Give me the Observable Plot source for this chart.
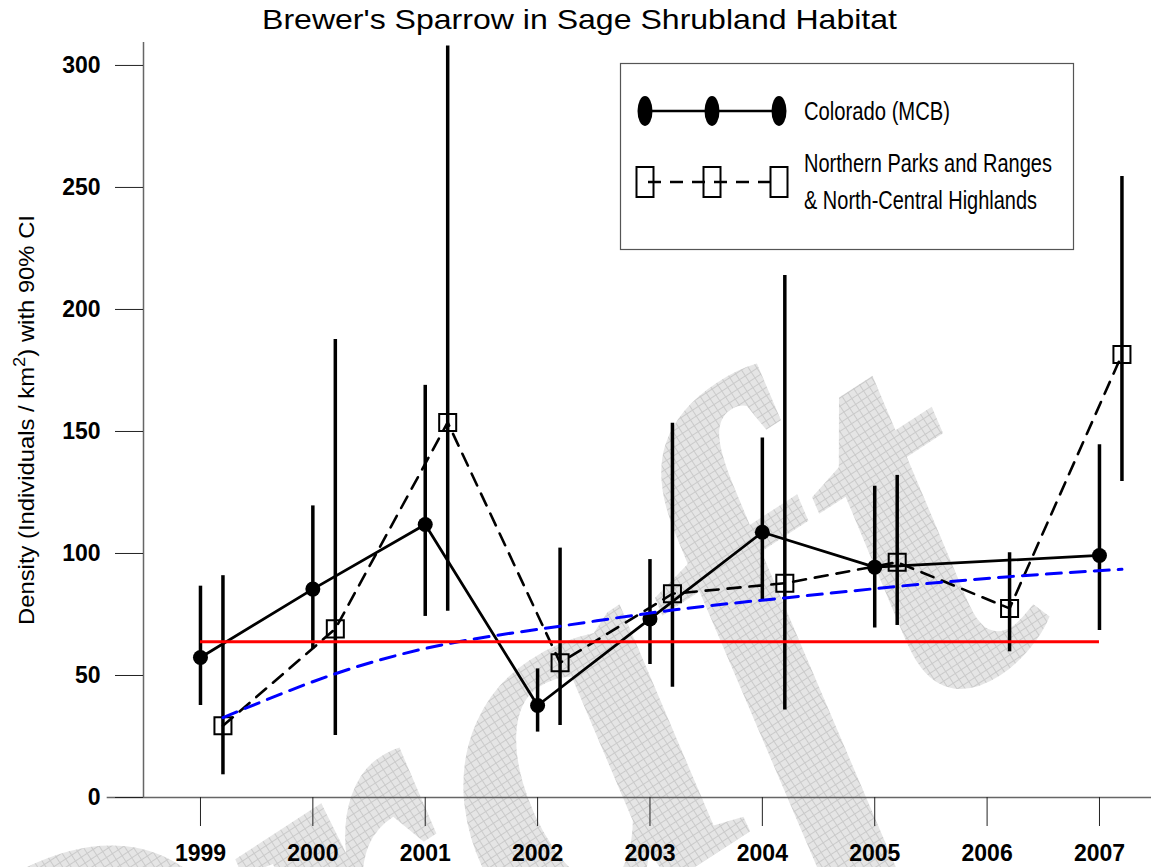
<!DOCTYPE html>
<html><head><meta charset="utf-8">
<script src="https://cdn.jsdelivr.net/npm/d3@7"></script>
<script src="https://cdn.jsdelivr.net/npm/@observablehq/plot@0.6"></script>
<style>body{margin:0;background:#fff} #chart svg{display:block}</style>
</head><body><div id="chart"></div>
<script>
// ---- data ----
const years = [1999, 2000, 2001, 2002, 2003, 2004, 2005, 2006, 2007];
const coloradoYears = [1999, 2000, 2001, 2002, 2003, 2004, 2005, 2007];
const coloradoDensity = [57.4, 85.4, 111.9, 37.7, 73.2, 108.7, 94.4, 99.2];
const coloradoLower   = [37.7, 60.9, 74.2, 26.8, 54.5, 80.4, 69.5, 68.4];
const coloradoUpper   = [86.6, 119.5, 168.9, 52.7, 97.5, 147.3, 127.5, 144.6];
const parksYears = [1999, 2000, 2001, 2002, 2003, 2004, 2005, 2006, 2007];
const parksDensity = [29.4, 69.1, 153.7, 55.2, 83.5, 87.8, 96.4, 77.5, 181.5];
const parksLower   = [9.3, 25.4, 76.3, 29.5, 45.2, 35.9, 70.5, 59.7, 129.5];
const parksUpper   = [90.9, 187.7, 308, 102.2, 153.4, 213.9, 132, 100.3, 254.5];
const trendDensity = [32.7, 50.7, 63.0, 70.2, 76.8, 81.8, 86.5, 90.5, 93.5];
const meanDensity = 63.8;
const yTicks = [0, 50, 100, 150, 200, 250, 300];
const parksOffset = 0.2;
const titleText = "Brewer's Sparrow in Sage Shrubland Habitat";
const legendLabels = ["Colorado (MCB)", "Northern Parks and Ranges", "& North-Central Highlands"];

// ---- tables ----
const colorado = coloradoYears.map((yr, i) => ({x: yr, est: coloradoDensity[i], lo: coloradoLower[i], hi: coloradoUpper[i]}));
const parks = parksYears.map((yr, i) => ({x: yr + parksOffset, est: parksDensity[i], lo: parksLower[i], hi: parksUpper[i]}));
const trend = parksYears.map((yr, i) => ({x: yr + parksOffset, y: trendDensity[i]}));

const W = 1151, H = 867;
const xDomain = [1998.493, 2007.463];
const yDomain = [0, 309.4];
const axisGray = "#666";

const chart = Plot.plot({
  width: W, height: H,
  marginLeft: 143, marginRight: 0, marginTop: 42, marginBottom: 70,
  style: {fontFamily: "'Liberation Sans', Arial, Helvetica, sans-serif", background: "#fff", color: "#000"},
  x: {domain: xDomain},
  y: {domain: yDomain},
  marks: [
    Plot.ruleX([xDomain[0]], {y1: yDomain[0], y2: yDomain[1], stroke: axisGray, strokeWidth: 1.5}),
    Plot.ruleY([0], {x1: 1998.17, x2: xDomain[1], stroke: axisGray, strokeWidth: 1.5}),
    Plot.axisY(yTicks, {tickSize: 28, tickPadding: 15, fontSize: 23, fontWeight: "bold", stroke: "#222", label: null}),
    Plot.axisX(years, {tickSize: 29, tickPadding: 18, fontSize: 23, fontWeight: "bold", stroke: "#222", tickFormat: d => String(d), label: null}),
    Plot.ruleX(colorado, {x: "x", y1: "lo", y2: "hi", stroke: "#000", strokeWidth: 3.5}),
    Plot.ruleX(parks, {x: "x", y1: "lo", y2: "hi", stroke: "#000", strokeWidth: 3.5}),
    Plot.line(parks, {x: "x", y: "est", stroke: "#000", strokeWidth: 2.6, strokeDasharray: "13,9"}),
    Plot.line(colorado, {x: "x", y: "est", stroke: "#000", strokeWidth: 2.8}),
    Plot.dot(colorado, {x: "x", y: "est", r: 7.5, fill: "#000"}),
    Plot.dot(parks, {x: "x", y: "est", symbol: "square", r: 9.6, stroke: "#000", strokeWidth: 2, fill: "none"}),
    Plot.line(trend, {x: "x", y: "y", stroke: "#0000ff", strokeWidth: 3, strokeDasharray: "15,9", curve: "natural"}),
    Plot.ruleY([meanDensity], {x1: years[0], x2: years[years.length - 1], stroke: "#ff0000", strokeWidth: 3})
  ]
});

// ---- decorations: watermark, title, y label, legend ----
const svg = d3.select(chart);
const defs = svg.append("defs");
const pat = defs.append("pattern").attr("id", "wmgrid").attr("width", 7).attr("height", 7).attr("patternUnits", "userSpaceOnUse");
pat.append("rect").attr("width", 7).attr("height", 7).attr("fill", "#e5e5e5");
pat.append("path").attr("d", "M0,0.5H7M0.5,0V7").attr("stroke", "#cacaca").attr("stroke-width", 1);

svg.insert("text", "g")
  .attr("transform", "translate(1060,630) rotate(-33)")
  .attr("text-anchor", "end")
  .attr("font-family", "'Liberation Serif', 'Times New Roman', serif")
  .attr("font-style", "italic")
  .attr("font-weight", "bold")
  .attr("font-size", 560)
  .attr("fill", "url(#wmgrid)")
  .text("Draft");

svg.append("text")
  .attr("x", 262).attr("y", 29)
  .attr("text-anchor", "start")
  .attr("font-family", "'Liberation Sans', Arial, sans-serif")
  .attr("font-size", 28)
  .attr("textLength", 635).attr("lengthAdjust", "spacingAndGlyphs")
  .attr("fill", "#000")
  .text(titleText);

const yl = svg.append("text")
  .attr("transform", "translate(34,420) rotate(-90)")
  .attr("text-anchor", "middle")
  .attr("font-family", "'Liberation Sans', Arial, sans-serif")
  .attr("font-size", 22)
  .attr("textLength", 410).attr("lengthAdjust", "spacingAndGlyphs")
  .attr("fill", "#000");
yl.append("tspan").text("Density (Individuals / km");
yl.append("tspan").attr("baseline-shift", "super").attr("font-size", 17).text("2");
yl.append("tspan").text(") with 90% CI");

const lg = svg.append("g");
lg.append("rect").attr("x", 620.5).attr("y", 63.5).attr("width", 453).attr("height", 186)
  .attr("fill", "#fff").attr("stroke", "#555").attr("stroke-width", 1.2);
const symX = [645, 712, 779];
lg.append("line").attr("x1", symX[0]).attr("x2", symX[2]).attr("y1", 111).attr("y2", 111)
  .attr("stroke", "#000").attr("stroke-width", 2.5);
symX.forEach(cx => lg.append("ellipse").attr("cx", cx).attr("cy", 111).attr("rx", 7.5).attr("ry", 15).attr("fill", "#000"));
lg.append("line").attr("x1", symX[0]).attr("x2", symX[2]).attr("y1", 182).attr("y2", 182)
  .attr("stroke", "#000").attr("stroke-width", 2.5).attr("stroke-dasharray", "13,9").attr("stroke-dashoffset", -3);
symX.forEach(cx => lg.append("rect").attr("x", cx - 8.5).attr("y", 167).attr("width", 17).attr("height", 30)
  .attr("fill", "none").attr("stroke", "#000").attr("stroke-width", 2));
const legendText = (t, y, len) => lg.append("text").attr("x", 804).attr("y", y)
  .attr("text-anchor", "start")
  .attr("font-family", "'Liberation Sans', Arial, sans-serif").attr("font-size", 25)
  .attr("textLength", len).attr("lengthAdjust", "spacingAndGlyphs").attr("fill", "#000").text(t);
legendText(legendLabels[0], 120, 146);
legendText(legendLabels[1], 172, 248);
legendText(legendLabels[2], 209, 233);

document.getElementById("chart").appendChild(chart);
</script>
</body></html>
